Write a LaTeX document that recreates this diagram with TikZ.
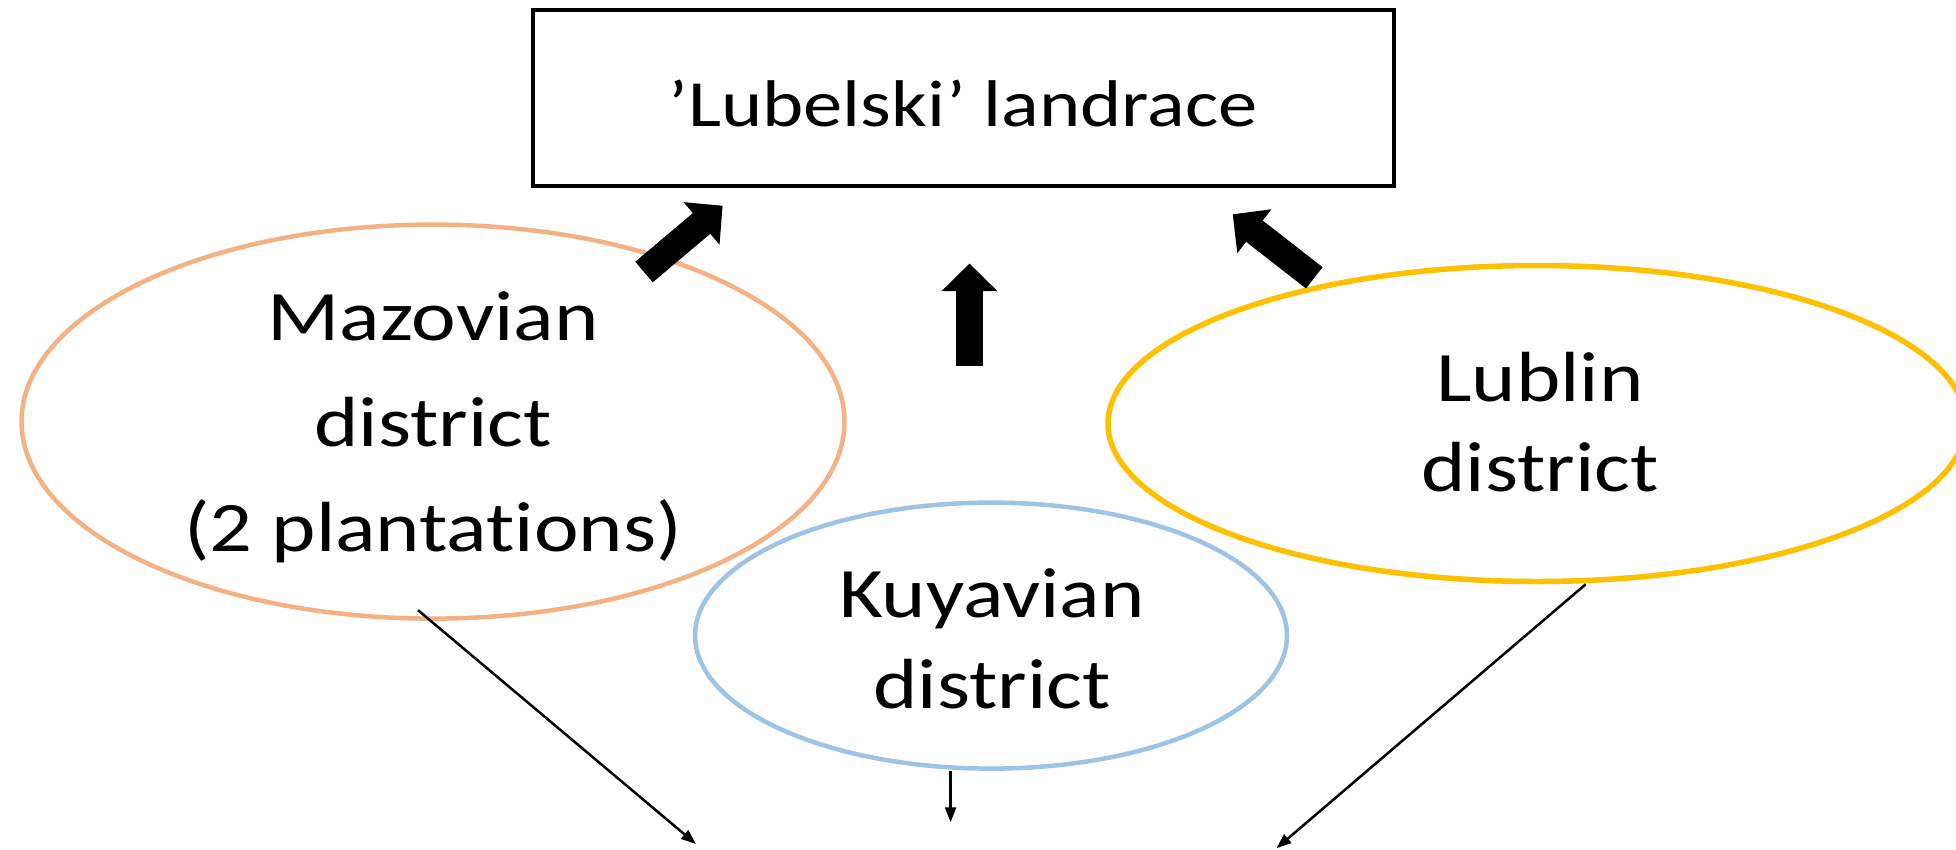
\documentclass[tikz,border=0pt]{standalone}
\usepackage{fontspec}
\setmainfont{Carlito}[FakeStretch=1.19,Ligatures=NoCommon,RawFeature=-calt,RawFeature=-dlig,RawFeature=-rlig]
\usetikzlibrary{arrows.meta,shapes.geometric}
\definecolor{mazcol}{HTML}{F4B183}
\definecolor{lubcol}{HTML}{FFC000}
\definecolor{kuycol}{HTML}{9DC3E6}
\begin{document}
\begin{tikzpicture}[x=1pt,y=-1pt,
  district/.style={draw, ellipse, inner sep=0pt},
  lbl/.style={anchor=base, inner sep=0pt, font=\fontsize{71}{85}\selectfont},
  bigarrow/.style={line width=27pt, line cap=butt, -{Triangle[width=54pt,length=27.5pt]}},
  thinarrow/.style={line width=2.5pt, -{Triangle[width=11pt,length=15pt]}}]
\useasboundingbox (0,0) rectangle (1956,849);
% title box
\node[draw, line width=4pt, minimum width=861pt, minimum height=176pt, inner sep=0pt,
      text height=56pt, text depth=0pt, font=\fontsize{66}{80}\selectfont]
  (title) at (963,98) {'Lubelski' landrace};
% ellipses
\node[district, draw=mazcol, line width=4.5pt, minimum width=823pt, minimum height=394pt] (maz) at (433,421.6) {};
\node[district, draw=lubcol, line width=5.5pt, minimum width=858pt, minimum height=316pt] (lub) at (1537,423.5) {};
\node[district, draw=kuycol, line width=4.5pt, minimum width=592pt, minimum height=266pt] (kuy) at (991,635.6) {};
% texts
\node[lbl] (maz1) at (433,340) {Mazovian};
\node[lbl] (maz2) at (433,446) {district};
\node[lbl] (maz3) at (433,551.7) {(2 plantat\kern0pt ions)};
\node[lbl] (lub1) at (1540,401) {Lublin};
\node[lbl] (lub2) at (1540,491) {district};
\node[lbl] (kuy1) at (992,617.5) {Kuyavian};
\node[lbl] (kuy2) at (992,708.5) {district};
% block arrows
\coordinate (la0) at (644,272);    \coordinate (la1) at (722.6,205.7);
\coordinate (ma0) at (969.5,366);  \coordinate (ma1) at (969.5,263.5);
\coordinate (ra0) at (1314.3,277.8); \coordinate (ra1) at (1232.7,214.3);
\draw[bigarrow] (la0) -- (la1);
\draw[bigarrow] (ma0) -- (ma1);
\draw[bigarrow] (ra0) -- (ra1);
% thin arrows
\coordinate (me) at (696,844);
\coordinate (ke) at (950.6,822.3);
\coordinate (le) at (1276.4,848.3);
\draw[thinarrow] ([shift={(-15,-10.7)}]maz.south) -- (me);
\draw[thinarrow] ([shift={(-40.4,0)}]kuy.south) -- (ke);
\draw[thinarrow] ([shift={(48.7,0)}]lub.south) -- (le);
\end{tikzpicture}
\end{document}
